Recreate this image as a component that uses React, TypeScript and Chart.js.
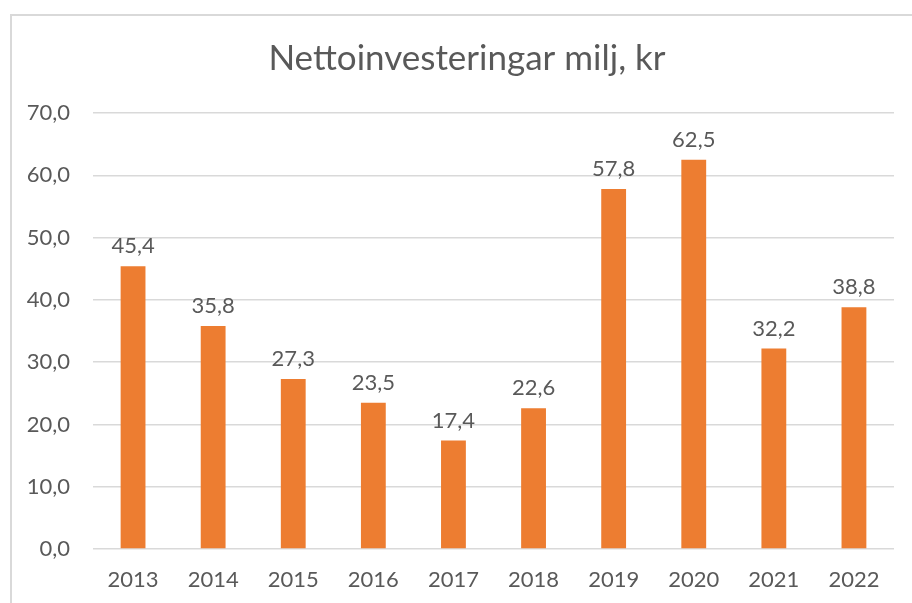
import React, { useEffect, useRef } from "react";
import { Chart, registerables } from "chart.js";

Chart.register(...registerables);

const categories = ["2013", "2014", "2015", "2016", "2017", "2018", "2019", "2020", "2021", "2022"];
const values = [45.4, 35.8, 27.3, 23.5, 17.4, 22.6, 57.8, 62.5, 32.2, 38.8];
const titleText = "Nettoinvesteringar milj, kr";
const yMin = 0;
const yMax = 70;
const yStep = 10;

const FONT = "Lato, 'Open Sans', sans-serif";
const TEXT = "#595959";

const fmt = (v: number) => v.toFixed(1).replace(".", ",");

const labelPlugin = {
  id: "barLabels",
  afterDatasetsDraw(chart: any) {
    const ctx = chart.ctx;
    const meta = chart.getDatasetMeta(0);
    ctx.save();
    ctx.font = `22px ${FONT}`;
    ctx.fillStyle = TEXT;
    ctx.textAlign = "center";
    ctx.textBaseline = "bottom";
    meta.data.forEach((bar: any, i: number) => {
      ctx.fillText(fmt(values[i]), bar.x, bar.y - 9);
    });
    ctx.restore();
  },
};

// the chart frame starts at x=10, so centre the title over the frame
const titleShift = {
  id: "titleShift",
  afterLayout(chart: any) {
    if (chart.titleBlock) chart.titleBlock.left = 40;
  },
};

export default function App() {
  const ref = useRef<HTMLCanvasElement | null>(null);

  useEffect(() => {
    document.body.style.margin = "0";
    const chart = new Chart(ref.current!, {
      type: "bar",
      data: {
        labels: categories,
        datasets: [
          {
            data: values,
            backgroundColor: "#ED7D31",
            barPercentage: 0.31,
            categoryPercentage: 1,
          },
        ],
      },
      options: {
        animation: false,
        responsive: false,
        maintainAspectRatio: false,
        layout: { padding: { left: 0, right: 18, top: 0, bottom: 0 } },
        plugins: {
          legend: { display: false },
          tooltip: { enabled: false },
          title: {
            display: true,
            text: titleText,
            color: TEXT,
            font: { family: FONT, size: 35, weight: "normal" },
            padding: { top: 38, bottom: 33 },
          },
        },
        scales: {
          x: {
            grid: { display: false },
            border: { display: false },
            ticks: { color: TEXT, font: { family: FONT, size: 22 }, padding: 10 },
            afterFit: (s: any) => {
              s.height = 54;
            },
          },
          y: {
            min: yMin,
            max: yMax,
            grid: { color: "#d9d9d9", lineWidth: 1.5, drawTicks: false },
            border: { display: false },
            ticks: {
              stepSize: yStep,
              color: TEXT,
              font: { family: FONT, size: 22 },
              padding: 23,
              callback: (v: any) => fmt(Number(v)),
            },
            afterFit: (s: any) => {
              s.width = 93;
            },
          },
        },
      },
      plugins: [labelPlugin, titleShift],
    });
    return () => chart.destroy();
  }, []);

  return (
    <div style={{ position: "relative", width: 912, height: 603, overflow: "hidden", background: "#fff" }}>
      <div
        style={{
          position: "absolute",
          left: 10,
          top: 14,
          width: 1000,
          height: 700,
          borderTop: "2px solid #d9d9d9",
          borderLeft: "2px solid #d9d9d9",
        }}
      />
      <canvas ref={ref} width={912} height={603} style={{ position: "absolute", left: 0, top: 0 }} />
    </div>
  );
}
